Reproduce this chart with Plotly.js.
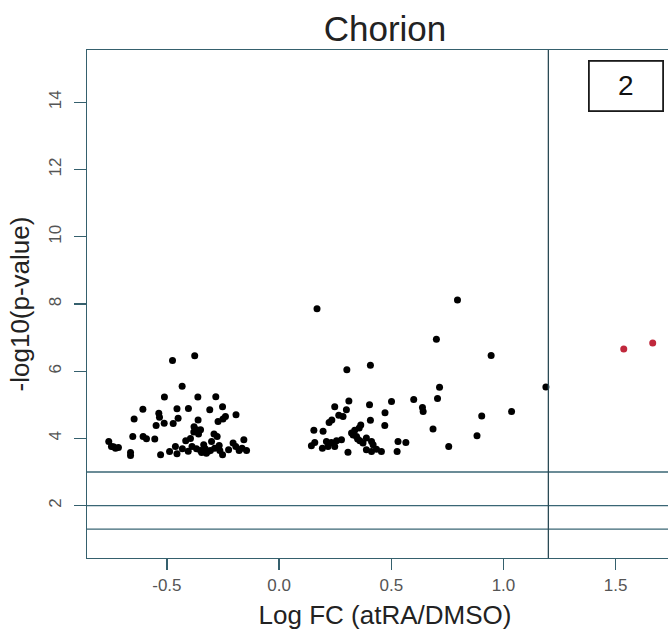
<!DOCTYPE html>
<html>
<head>
<meta charset="utf-8">
<script src="https://cdn.plot.ly/plotly-3.0.1.min.js"></script>
<style>
html,body{margin:0;padding:0;overflow:hidden;background:#fff;width:668px;height:637px;}
#chart{width:700px;height:637px;}
</style>
</head>
<body>
<div id="chart"></div>
<script>
// ---- data ----
const chartTitle = "Chorion";
const xTitle = "Log FC (atRA/DMSO)";
const yTitle = "-log10(p-value)";
const xTickVals = [-0.5, 0.0, 0.5, 1.0, 1.5];
const xTickText = ["-0.5", "0.0", "0.5", "1.0", "1.5"];
const yTickVals = [2, 4, 6, 8, 10, 12, 14];
const yTickText = ["2", "4", "6", "8", "10", "12", "14"];
const hLineVals = [3, 2, 1.3];
const vLineVals = [1.2];
const boxLabel = "2";

const blackX = [
 -0.475,-0.376,-0.432,-0.511,-0.362,-0.282,-0.607,-0.455,-0.404,-0.309,
 -0.252,-0.536,-0.533,-0.646,-0.450,-0.361,-0.192,-0.239,-0.272,-0.512,
 -0.472,-0.548,-0.250,-0.379,-0.368,-0.350,-0.380,-0.359,-0.290,-0.276,
 -0.652,-0.606,-0.591,-0.554,-0.759,-0.747,-0.729,-0.662,-0.662,-0.528,
 -0.488,-0.455,-0.462,-0.431,-0.416,-0.388,-0.368,-0.350,-0.336,-0.324,
 -0.301,-0.306,-0.287,-0.267,-0.264,-0.252,-0.205,-0.193,-0.178,-0.157,
 -0.145,-0.165,-0.738,-0.716,-0.405,-0.395,-0.345,-0.330,-0.315,-0.225,
 0.169,0.795,0.701,0.945,0.302,0.407,0.715,1.189,0.706,0.600,
 0.501,0.311,0.403,0.248,0.639,0.642,0.472,0.300,0.266,1.036,
 0.903,0.285,0.235,0.223,0.407,0.471,0.364,0.357,0.337,0.323,
 0.155,0.196,0.686,0.882,0.345,0.389,0.159,0.144,0.211,0.233,
 0.256,0.278,0.193,0.218,0.248,0.360,0.374,0.412,0.419,0.389,
 0.412,0.434,0.456,0.307,0.530,0.565,0.526,0.756,0.330,0.350
];
const blackY = [
 6.32,6.46,5.55,5.23,5.23,5.24,4.87,4.88,4.89,4.85,
 4.94,4.75,4.63,4.58,4.60,4.55,4.70,4.65,4.50,4.45,
 4.44,4.38,4.58,4.35,4.26,4.26,4.19,4.13,4.13,4.06,
 4.06,4.06,3.99,3.98,3.91,3.76,3.71,3.58,3.49,3.51,
 3.61,3.54,3.76,3.69,3.93,3.76,3.69,3.64,3.81,3.56,
 3.91,3.64,3.71,3.79,3.64,3.51,3.86,3.76,3.64,3.96,
 3.64,3.71,3.75,3.73,3.62,4.00,3.58,3.70,3.62,3.66,
 7.86,8.12,6.95,6.47,6.04,6.18,5.52,5.53,5.19,5.16,
 5.10,5.11,5.00,4.94,4.92,4.80,4.76,4.85,4.69,4.80,
 4.67,4.65,4.55,4.47,4.54,4.38,4.40,4.31,4.24,4.16,
 4.24,4.21,4.28,4.08,4.06,4.01,3.88,3.78,3.91,3.88,
 3.93,3.96,3.71,3.76,3.76,3.93,3.86,3.91,3.81,3.66,
 3.61,3.68,3.61,3.59,3.91,3.88,3.61,3.76,4.10,3.98
];
const redX = [1.536, 1.665];
const redY = [6.66, 6.84];

// ---- styles ----
const frameColor = "#35606d";
const lineColor = "#3a6675";
const tickFontColor = "#555555";
const fontFam = "Liberation Sans, Arial, sans-serif";

const shapes = [];
hLineVals.forEach(v => shapes.push({type:"line", xref:"paper", yref:"y", x0:0, x1:1, y0:v, y1:v,
  line:{color:lineColor, width:1.3}}));
vLineVals.forEach(v => shapes.push({type:"line", xref:"x", yref:"paper", x0:v, x1:v, y0:0, y1:1,
  line:{color:"#2a4a55", width:1.3}}));

const traces = [
  {x: blackX, y: blackY, type:"scatter", mode:"markers", name:"ns",
   marker:{color:"#000000", size:7}, hoverinfo:"x+y"},
  {x: redX, y: redY, type:"scatter", mode:"markers", name:"sig",
   marker:{color:"#c0283c", size:7}, hoverinfo:"x+y"}
];

const layout = {
  width: 700, height: 637,
  margin: {l: 87, r: 17, t: 50, b: 79},
  paper_bgcolor: "#ffffff", plot_bgcolor: "#ffffff",
  showlegend: false,
  font: {family: fontFam, color: "#222"},
  title: {text: chartTitle, font: {size: 35, color: "#222", family: fontFam},
          x: 0.5, xref: "paper", xanchor: "center", y: 0.955, yanchor: "middle"},
  xaxis: {
    range: [-0.856, 1.800], showgrid: false, zeroline: false,
    showline: true, mirror: true, linecolor: frameColor, linewidth: 1.3,
    ticks: "outside", ticklen: 11, tickwidth: 1.3, tickcolor: frameColor,
    tickvals: xTickVals, ticktext: xTickText,
    tickfont: {size: 17, color: tickFontColor, family: fontFam},
    title: {text: xTitle, font: {size: 26, color: "#222", family: fontFam}, standoff: 12}
  },
  yaxis: {
    range: [0.44, 15.56], showgrid: false, zeroline: false,
    showline: true, mirror: true, linecolor: frameColor, linewidth: 1.3,
    ticks: "outside", ticklen: 12, tickwidth: 1.3, tickcolor: frameColor,
    tickvals: yTickVals, ticktext: yTickText, tickangle: -90, ticklabelstandoff: 6,
    tickfont: {size: 17, color: tickFontColor, family: fontFam},
    title: {text: yTitle, font: {size: 26, color: "#222", family: fontFam}, standoff: 8}
  },
  shapes: shapes,
  annotations: [{
    x: 1.548, y: 14.48, xref: "x", yref: "y", text: boxLabel, showarrow: false,
    xanchor: "center", yanchor: "middle",
    font: {size: 28, color: "#111", family: fontFam},
    bordercolor: "#1a1a1a", borderwidth: 1.8, borderpad: 0, bgcolor: "#ffffff",
    width: 72, height: 48
  }]
};

Plotly.newPlot("chart", traces, layout, {staticPlot: true, displayModeBar: false});
</script>
</body>
</html>
